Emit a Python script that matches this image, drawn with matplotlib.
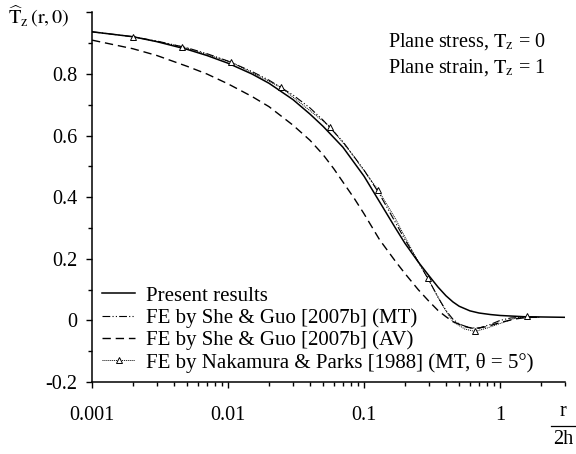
import numpy as np
import matplotlib
matplotlib.use("Agg")
import matplotlib.pyplot as plt
from matplotlib.ticker import FixedLocator, NullFormatter, LogLocator

plt.rcParams['font.family'] = ['Liberation Serif', 'DejaVu Serif']
plt.rcParams['mathtext.fontset'] = 'stix'

# present results (solid)
x_present = [0.001, 0.002, 0.003, 0.005, 0.007, 0.01, 0.015, 0.02, 0.03, 0.04, 0.05,
             0.07, 0.1, 0.13, 0.17, 0.2, 0.25, 0.3, 0.35, 0.4, 0.45, 0.5, 0.6, 0.7,
             0.85, 1.0, 1.5, 3.0]
y_present = [0.937, 0.921, 0.905, 0.880, 0.860, 0.835, 0.800, 0.770, 0.717, 0.670, 0.630,
             0.562, 0.468, 0.385, 0.300, 0.250, 0.190, 0.145, 0.108, 0.080, 0.060, 0.046,
             0.031, 0.024, 0.019, 0.016, 0.012, 0.010]

# FE by She & Guo (MT), dash-dot-dot
x_mt = [0.001, 0.002, 0.003, 0.005, 0.007, 0.01, 0.015, 0.02, 0.03, 0.04, 0.05, 0.07,
        0.1, 0.13, 0.17, 0.2, 0.25, 0.3, 0.35, 0.4, 0.45, 0.5, 0.6, 0.7, 0.85, 1.0,
        1.2, 1.5, 2.0]
y_mt = [0.937, 0.921, 0.907, 0.885, 0.866, 0.842, 0.808, 0.780, 0.732, 0.690, 0.650, 0.580,
        0.488, 0.410, 0.318, 0.262, 0.190, 0.130, 0.075, 0.032, 0.004, -0.012, -0.024,
        -0.025, -0.013, 0.000, 0.008, 0.010, 0.010]

# FE by She & Guo (AV), dashed
x_av = [0.001, 0.002, 0.003, 0.005, 0.007, 0.01, 0.015, 0.02, 0.03, 0.04, 0.05, 0.06,
        0.07, 0.085, 0.1, 0.13, 0.17, 0.2, 0.25, 0.3, 0.35, 0.4, 0.45, 0.55, 0.65, 0.8,
        1.0, 1.3, 1.6, 2.0]
y_av = [0.910, 0.882, 0.860, 0.825, 0.800, 0.768, 0.727, 0.694, 0.634, 0.585, 0.538, 0.492,
        0.449, 0.395, 0.346, 0.262, 0.192, 0.152, 0.100, 0.062, 0.032, 0.012, -0.004,
        -0.020, -0.027, -0.020, -0.007, 0.005, 0.010, 0.010]

# FE by Nakamura & Parks (dotted, triangles on the measured points)
x_np = [0.002, 0.00457, 0.0106, 0.0244, 0.0562, 0.08, 0.127, 0.17, 0.2, 0.24, 0.294,
        0.37, 0.45, 0.55, 0.655, 0.8, 1.0, 1.25, 1.57]
y_np = [0.921, 0.889, 0.838, 0.757, 0.629, 0.545, 0.423, 0.330, 0.270, 0.205, 0.137,
        0.055, -0.004, -0.028, -0.036, -0.025, -0.010, 0.005, 0.013]
np_marked = [0, 1, 2, 3, 4, 6, 10, 14, 18]

labels = ["Present results",
          "FE by She & Guo [2007b] (MT)",
          "FE by She & Guo [2007b] (AV)",
          "FE by Nakamura & Parks [1988] (MT, \u03b8 = 5\u00b0)"]

W, H = 576, 454
fs = 15
fig = plt.figure(figsize=(W / 100, H / 100), dpi=100)
ax = fig.add_axes([92 / W, 1 - 382 / H, (565 - 92) / W, (382 - 12.4) / H])

ax.plot(x_present, y_present, color='black', lw=1.1, label=labels[0])
ax.plot(x_mt, y_mt, color='black', lw=0.8, dashes=(7, 2, 1, 2, 1, 2), label=labels[1])
ax.plot(x_av, y_av, color='black', lw=1.0, dashes=(6, 3.5), label=labels[2])
ax.plot(x_np, y_np, color='black', lw=0.7, linestyle=(0, (1, 1)), marker='^',
        markevery=np_marked, markersize=5, markerfacecolor='white',
        markeredgecolor='black', markeredgewidth=0.7, label=labels[3])

ax.set_xscale('log')
ax.set_xlim(0.001, 3)
ax.set_ylim(-0.2, 1.0)

ax.xaxis.set_major_locator(FixedLocator([0.001, 0.01, 0.1, 1]))
ax.set_xticklabels(['0.001', '0.01', '0.1', '1'])
ax.xaxis.set_minor_locator(LogLocator(base=10, subs=np.arange(2, 10)))
ax.xaxis.set_minor_formatter(NullFormatter())

ax.set_yticks([-0.2, 0, 0.2, 0.4, 0.6, 0.8, 1.0])
ax.set_yticklabels(['-0.2', '0', '0.2', '0.4', '0.6', '0.8', ''])
ax.set_yticks(np.arange(-0.1, 1.0, 0.2), minor=True)

for s in ['top', 'right']:
    ax.spines[s].set_visible(False)
for s in ['left', 'bottom']:
    ax.spines[s].set_linewidth(1.1)

ax.tick_params(axis='both', which='major', direction='out', length=4.5, width=1.0,
               labelsize=14.6)
ax.tick_params(axis='both', which='minor', direction='out', length=2.8, width=1.0)
ax.tick_params(axis='x', which='major', pad=12.5)
ax.tick_params(axis='y', which='major', pad=6)

leg = ax.legend(loc='lower left', bbox_to_anchor=(0.021, 0.025), frameon=False,
                fontsize=fs, handlelength=1.6, handletextpad=0.53,
                labelspacing=0.12, borderpad=0, borderaxespad=0)

fig.text(388 / W, 1 - 42 / H, r'Plane stress, $\mathrm{T_z}$ = 0',
         fontsize=14.6, va='center', ha='left')
fig.text(388 / W, 1 - 68 / H, r'Plane strain, $\mathrm{T_z}$ = 1',
         fontsize=14.6, va='center', ha='left')

fig.text(8 / W, 1 - 16 / H, r'$\widehat{\mathrm{T}}_{\mathrm{z}}\,(\mathrm{r},0)$',
         fontsize=14.6, va='center', ha='left')

# x label as a fraction r / 2h
fig.text(563 / W, 1 - 412 / H, 'r', fontsize=14.6, ha='center', va='center')
fig.add_artist(plt.Line2D([551 / W, 576 / W], [1 - 426 / H, 1 - 426 / H],
                          transform=fig.transFigure, color='black', lw=0.9))
fig.text(563 / W, 1 - 440 / H, '2h', fontsize=14.6, ha='center', va='center')

fig.savefig('out.png', dpi=100, facecolor='white')
